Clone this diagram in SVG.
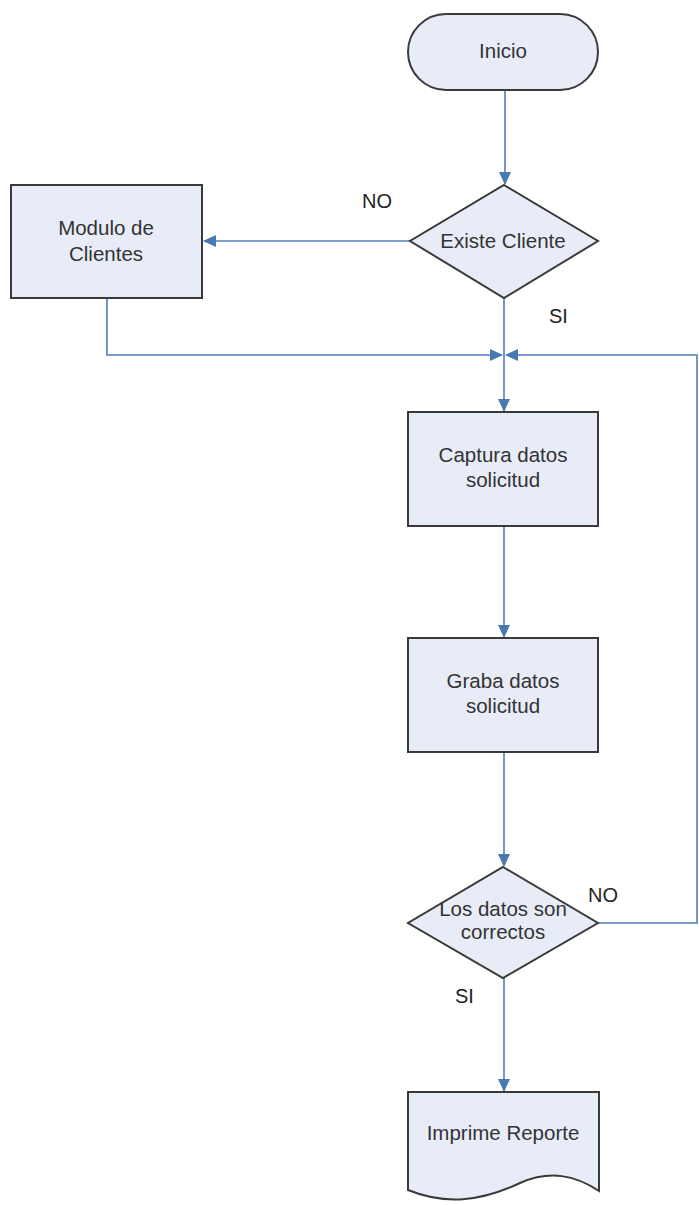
<svg xmlns="http://www.w3.org/2000/svg" width="699" height="1205" viewBox="0 0 699 1205">
<style>
.shape{fill:#e8ecf7;stroke:#3a3a3a;stroke-width:2}
.t{font-family:"Liberation Sans",Arial,sans-serif;font-size:20.5px;fill:#333;text-anchor:middle}
.lbl{font-family:"Liberation Sans",Arial,sans-serif;font-size:20px;fill:#222}
.c{fill:none;stroke:#4f7fbf;stroke-width:1.6}
</style>
<defs>
<marker id="ah" markerWidth="13" markerHeight="12" refX="12" refY="6" orient="auto" markerUnits="userSpaceOnUse">
<path d="M0,0 L13,6 L0,12 Z" fill="#4a78b0"/>
</marker>
</defs>
<rect width="699" height="1205" fill="#ffffff"/>
<g id="connectors">
<path class="c" d="M505,90 V184" marker-end="url(#ah)"/>
<path class="c" d="M410,241 H204" marker-end="url(#ah)"/>
<path class="c" d="M107,298 V355 H502" marker-end="url(#ah)"/>
<path class="c" d="M598,923 H697 V355 H506" marker-end="url(#ah)"/>
<path class="c" d="M504,298 V411" marker-end="url(#ah)"/>
<path class="c" d="M504,526 V637" marker-end="url(#ah)"/>
<path class="c" d="M504,752 V866" marker-end="url(#ah)"/>
<path class="c" d="M504,978 V1091" marker-end="url(#ah)"/>
</g>
<g id="labels">
<text class="lbl" x="362" y="208">NO</text>
<text class="lbl" x="549" y="323">SI</text>
<text class="lbl" x="588" y="902">NO</text>
<text class="lbl" x="455" y="1003">SI</text>
</g>
<g id="inicio">
<rect class="shape" x="408" y="14" width="190" height="76" rx="38" ry="38"/>
<text class="t" x="503" y="58">Inicio</text>
</g>
<g id="existe-cliente">
<path class="shape" d="M504,185 L598,241 L504,298 L410,241 Z"/>
<text class="t" x="503" y="248">Existe Cliente</text>
</g>
<g id="modulo-clientes">
<rect class="shape" x="11" y="185" width="191" height="113"/>
<text class="t" x="106" y="235">Modulo de</text>
<text class="t" x="106" y="261">Clientes</text>
</g>
<g id="captura">
<rect class="shape" x="408" y="412" width="190" height="114"/>
<text class="t" x="503" y="462">Captura datos</text>
<text class="t" x="503" y="487">solicitud</text>
</g>
<g id="graba">
<rect class="shape" x="408" y="638" width="190" height="114"/>
<text class="t" x="503" y="688">Graba datos</text>
<text class="t" x="503" y="713">solicitud</text>
</g>
<g id="datos-correctos">
<path class="shape" d="M503,867 L598,923 L503,978 L408,923 Z"/>
<text class="t" x="503" y="916">Los datos son</text>
<text class="t" x="503" y="939">correctos</text>
</g>
<g id="imprime">
<path class="shape" d="M408,1092 H599 V1191 C575,1175 550,1170 520,1183 C480,1202 445,1205 408,1190 Z"/>
<text class="t" x="503" y="1140">Imprime Reporte</text>
</g>
</svg>
